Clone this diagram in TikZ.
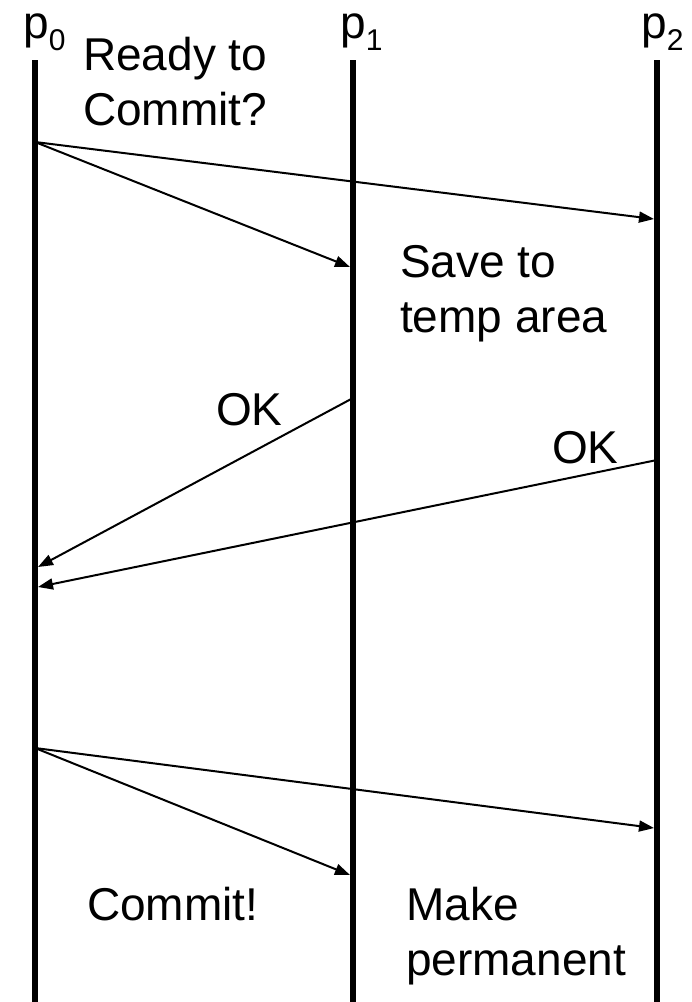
\documentclass[tikz,border=0pt]{standalone}
\usepackage{fontspec}
\setmainfont{Liberation Sans}
\usetikzlibrary{arrows.meta}
\begin{document}
\begin{tikzpicture}[x=1pt,y=-1pt,
  life/.style={line width=6pt},
  msg/.style={line width=2pt,-{Triangle[length=15pt,width=11pt]}},
  lbl/.style={anchor=base west,inner sep=0pt,font=\fontsize{46}{55}\selectfont}]
\useasboundingbox (0,0) rectangle (692,1002);
% lifelines
\coordinate (p0t) at (35,60);  \coordinate (p0b) at (35,1002);
\coordinate (p1t) at (353,60); \coordinate (p1b) at (353,1002);
\coordinate (p2t) at (657,60); \coordinate (p2b) at (657,1002);
\draw[life] (p0t) -- (p0b);
\draw[life] (p1t) -- (p1b);
\draw[life] (p2t) -- (p2b);
% process labels
\node[lbl] (l0) at (23,38) {p\raisebox{-12pt}{\fontsize{30}{30}\selectfont 0}};
\node[lbl] (l1) at (340,38) {p\raisebox{-12pt}{\fontsize{30}{30}\selectfont 1}};
\node[lbl] (l2) at (641,38) {p\raisebox{-12pt}{\fontsize{30}{30}\selectfont 2}};
% event points
\coordinate (s1) at (35,142);
\coordinate (r1a) at (654,219);
\coordinate (r1b) at (350,267);
\coordinate (s2) at (353,398);
\coordinate (r2) at (38,567);
\coordinate (s3) at (657,460);
\coordinate (r3) at (38,587);
\coordinate (s4) at (35,748);
\coordinate (r4a) at (654,828);
\coordinate (r4b) at (350,875);
% messages
\draw[msg] (s1) -- (r1a);
\draw[msg] (s1) -- (r1b);
\draw[msg] (s2) -- (r2);
\draw[msg] (s3) -- (r3);
\draw[msg] (s4) -- (r4a);
\draw[msg] (s4) -- (r4b);
% texts
\node[lbl] (t1a) at (83,70) {Ready to};
\node[lbl] (t1b) at (83,125) {Commit?};
\node[lbl] (t2a) at (400,277) {Save to};
\node[lbl] (t2b) at (400,332) {temp area};
\node[lbl] (ok1) at (216,425) {OK};
\node[lbl] (ok2) at (552,463) {OK};
\node[lbl] (t3) at (87,920) {Commit!};
\node[lbl] (t4a) at (406,920) {Make};
\node[lbl] (t4b) at (406,975) {permanent};
\end{tikzpicture}
\end{document}
